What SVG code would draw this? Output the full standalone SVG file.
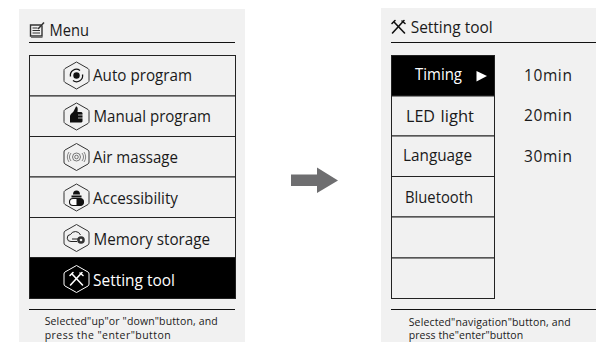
<svg xmlns="http://www.w3.org/2000/svg" width="596" height="342" viewBox="0 0 596 342">
<style>
text{font-family:"Open Sans","Noto Sans","Liberation Sans",sans-serif;fill:#1a1a1a}
.m{font-size:16.500px}
.h{font-size:15.500px}
.w{fill:#fff}
.f{font-size:10.500px}
.v{font-size:15.500px;letter-spacing:.6px}
.row{fill:#f1f1f1;stroke:#222;stroke-width:1}
.sel{fill:#000;stroke:#222;stroke-width:1}
.hx{fill:none;stroke:#333;stroke-width:1}
.rule{stroke:#111;stroke-width:1;fill:none}
</style>
<defs>
<path id="hex" d="M0-13.500 11.500-7Q12.500-6.400 12.500-5V5Q12.500 6.400 11.500 7L0 13.500-11.500 7Q-12.500 6.400-12.500 5V-5Q-12.500-6.400-11.500-7Z"/>
<g id="tools" fill="none" stroke-linecap="round"><path d="M-4-4.500 6 6" stroke-width="1.600"/><path d="M5.500-6.500-6 6" stroke-width="1.600"/><path d="M-6.500-3.500-3.500-6.500M3.500-6 6.500-3.500" stroke-width="1.600"/></g>
</defs>
<rect x="19" y="9" width="226" height="333" fill="#f1f1f1"/>
<rect x="381" y="8" width="215" height="334" fill="#f1f1f1"/>

<g id="menu-header">
<path d="M30.500 25h10.500l1 1v10h-11.500z" fill="#f1f1f1" stroke="#333" stroke-width="1.400"/>
<path d="M32.500 28h5M32.500 30.500h7.500M32.500 33h7.500" stroke="#333" stroke-width="1.100" fill="none"/>
<path d="M31 36.500h11.500v1.500H31z" fill="#777"/>
<path d="M38 29 44 22.500" stroke="#333" stroke-width="1.500"/>
<text class="h" x="49.500" y="35.500" textLength="39.500" lengthAdjust="spacingAndGlyphs">Menu</text>
<path class="rule" d="M29 42.500H235"/>
</g>

<g id="auto-program">
<rect class="row" x="29.500" y="55.500" width="206" height="40.500"/>
<use href="#hex" x="76.500" y="75.500" class="hx"/>
<circle cx="76.500" cy="75.500" r="3.200" fill="#111"/>
<path d="M70.500 76.500a6 6 0 0 1 9.500-6M82.500 74.500a6 6 0 0 1-9.500 6" fill="none" stroke="#111" stroke-width="1.300"/>
<text class="m" x="93" y="81" textLength="99" lengthAdjust="spacingAndGlyphs">Auto program</text>
</g>

<g id="manual-program">
<rect class="row" x="29.500" y="96" width="206" height="40.500"/>
<use href="#hex" x="76.500" y="116.500" class="hx"/>
<path d="M70 116c0-1.500 2-3 3.500-4.500L76 106.500c1.500 0 2 1.500 1.500 5.500h4l1 1v8.500l-1 1H70z" fill="#111"/>
<path d="M78 115h5M78 118h5" stroke="#f1f1f1" stroke-width=".7"/>
<text class="m" x="93.500" y="122" textLength="117.500" lengthAdjust="spacingAndGlyphs">Manual program</text>
</g>

<g id="air-massage">
<rect class="row" x="29.500" y="136.500" width="206" height="40.500"/>
<use href="#hex" x="76.500" y="157" class="hx"/>
<circle cx="76.500" cy="157" r="1.800" fill="none" stroke="#555" stroke-width=".8"/>
<circle cx="76.500" cy="157" r="4" fill="none" stroke="#666" stroke-width=".9"/>
<path d="M71 153a6.500 6.500 0 0 0 0 8M82 153a6.500 6.500 0 0 1 0 8M69 152a9 9 0 0 0 0 10M84 152a9 9 0 0 1 0 10" fill="none" stroke="#666" stroke-width=".8"/>
<text class="m" x="93" y="163" textLength="85" lengthAdjust="spacingAndGlyphs">Air massage</text>
</g>

<g id="accessibility">
<rect class="row" x="29.500" y="177" width="206" height="40.500"/>
<use href="#hex" x="76.500" y="197.500" class="hx"/>
<path d="M73 194.500a3.500 4 0 0 1 7 0zM71.500 195.500h10v2h-10z" fill="#111"/>
<rect x="69.500" y="198.500" width="14" height="7" rx="3.500" fill="#fff" stroke="#111" stroke-width="1.100"/>
<path d="M76.500 198.500h3.500a3.500 3.500 0 0 1 0 7h-3.500z" fill="#111"/>
<text class="m" x="93" y="203.500" textLength="85" lengthAdjust="spacingAndGlyphs">Accessibility</text>
</g>

<g id="memory-storage">
<rect class="row" x="29.500" y="217.500" width="206" height="40"/>
<use href="#hex" x="76.500" y="238" class="hx"/>
<path d="M77 241.500H71a3.500 3.500 0 0 1-.5-7 5.500 5.500 0 0 1 10 .5" fill="none" stroke="#222" stroke-width="1"/>
<path d="M72 239h6" stroke="#222" stroke-width="1"/>
<circle cx="81" cy="240" r="3.800" fill="#333"/>
<circle cx="81" cy="240" r="1.300" fill="#f1f1f1"/>
<text class="m" x="93.500" y="245" textLength="116.500" lengthAdjust="spacingAndGlyphs">Memory storage</text>
</g>

<g id="setting-tool">
<rect class="sel" x="29.500" y="257.500" width="206" height="41"/>
<use href="#hex" x="76.500" y="279" fill="none" stroke="#fff" stroke-width="1"/>
<use href="#tools" x="76.500" y="279" stroke="#fff"/>
<text class="m w" x="93" y="286" textLength="82" lengthAdjust="spacingAndGlyphs">Setting tool</text>
</g>

<g id="menu-footer">
<path class="rule" d="M29 309.500H235"/>
<text class="f" x="44.700" y="325" textLength="173" lengthAdjust="spacing">Selected"up"or "down"button, and</text>
<text class="f" x="44.700" y="338.500" textLength="126" lengthAdjust="spacing">press the "enter"button</text>
</g>

<g id="connectors">
<path d="M291 174.500h26v-7l21 13-21 12.500v-7h-26z" fill="#6e6e70"/>
</g>

<g id="setting-header">
<use href="#tools" x="398.500" y="27" stroke="#111"/>
<text class="h" x="410.700" y="33" textLength="82" lengthAdjust="spacingAndGlyphs">Setting tool</text>
<path class="rule" d="M391 42.500H596"/>
</g>

<g id="timing">
<rect class="sel" x="391.500" y="55.500" width="103" height="40.500"/>
<text x="415" y="80" class="w" style="font-size:15.500px" textLength="47" lengthAdjust="spacingAndGlyphs">Timing</text>
<path d="M476.500 71 487 76 476.500 81.500z" fill="#fff"/>
</g>
<g id="led-light">
<rect class="row" x="391.500" y="96" width="103" height="40"/>
<text x="406" y="122" class="m" textLength="29" lengthAdjust="spacingAndGlyphs">LED</text><text x="440.500" y="122" class="m" textLength="33.500" lengthAdjust="spacing">light</text>
</g>
<g id="language">
<rect class="row" x="391.500" y="136" width="103" height="40.500"/>
<text x="403" y="161" style="font-size:15.500px" textLength="69" lengthAdjust="spacingAndGlyphs">Language</text>
</g>
<g id="bluetooth">
<rect class="row" x="391.500" y="176.500" width="103" height="40.500"/>
<text x="405" y="203" style="font-size:16px" textLength="68" lengthAdjust="spacingAndGlyphs">Bluetooth</text>
</g>
<g id="empty-1"><rect class="row" x="391.500" y="217" width="103" height="41"/></g>
<g id="empty-2"><rect class="row" x="391.500" y="258" width="103" height="40.500"/></g>

<g id="timing-values">
<text class="v" x="524" y="81">10min</text>
<text class="v" x="524" y="121">20min</text>
<text class="v" x="524" y="162">30min</text>
</g>

<g id="setting-footer">
<path class="rule" d="M391 309.500H596"/>
<text class="f" x="408.700" y="325.500" textLength="162" lengthAdjust="spacing">Selected"navigation"button, and</text>
<text class="f" x="408.700" y="339" textLength="114.500" lengthAdjust="spacing">press the"enter"button</text>
</g>
</svg>
